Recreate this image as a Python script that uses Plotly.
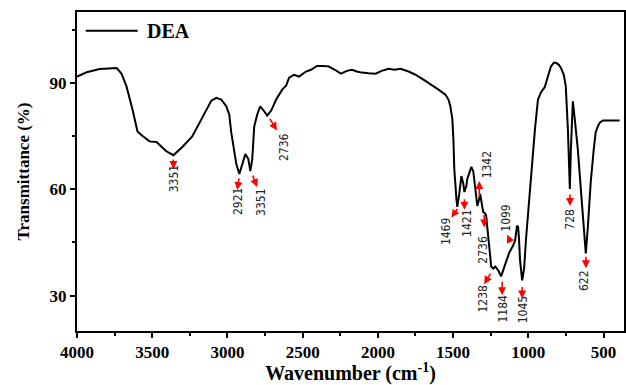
import plotly.graph_objects as go

wavenumber = [4000, 3936, 3850, 3783, 3736, 3704, 3671, 3631, 3598, 3564, 3518, 3472, 3439, 3406, 3359,
              3300, 3234, 3187, 3141, 3107, 3074, 3041, 3008, 2988, 2975, 2955, 2941, 2921, 2901, 2881,
              2861, 2848, 2835, 2822, 2802, 2782, 2756, 2736, 2709, 2676, 2636, 2610, 2590, 2557, 2524,
              2478, 2445, 2405, 2365, 2326, 2286, 2246, 2206, 2173, 2140, 2107, 2061, 2015, 1975, 1929,
              1889, 1849, 1796, 1750, 1697, 1644, 1597, 1551, 1531, 1518, 1505, 1498, 1492, 1478, 1472,
              1459, 1445, 1432, 1425, 1412, 1406, 1392, 1379, 1366, 1359, 1346, 1339, 1326, 1320, 1306,
              1300, 1286, 1280, 1273, 1267, 1253, 1247, 1233, 1220, 1200, 1181, 1167, 1147, 1127, 1101,
              1088, 1075, 1068, 1062, 1055, 1041, 1028, 1015, 1002, 989, 975, 956, 936, 916, 890,
              870, 850, 830, 817, 797, 784, 764, 751, 737, 731, 724, 717, 704, 691, 671,
              651, 631, 618, 605, 585, 565, 552, 538, 525, 505, 486, 393]
transmittance = [91.8, 93.0, 93.9, 94.2, 94.2, 92.6, 89.0, 82.5, 76.3, 75.0, 73.5, 73.3, 72.1, 70.7, 69.6,
                 71.9, 74.9, 78.6, 82.5, 85.0, 85.8, 85.3, 83.4, 81.1, 76.1, 69.9, 67.1, 64.3, 67.1, 69.9,
                 68.5, 65.1, 68.5, 77.7, 81.1, 83.4, 82.0, 80.8, 82.2, 85.3, 88.1, 89.2, 91.5, 92.3, 91.8,
                 93.2, 93.7, 94.8, 94.8, 94.6, 93.7, 92.6, 93.4, 93.7, 93.2, 92.9, 92.7, 92.6, 93.4, 94.0,
                 93.7, 94.0, 93.2, 92.3, 90.9, 89.5, 88.1, 86.7, 85.3, 83.4, 79.7, 74.1, 65.7, 57.3, 55.0,
                 58.7, 63.7, 61.5, 59.2, 60.9, 62.9, 64.6, 66.3, 65.1, 62.9, 58.7, 55.3, 57.3, 58.7, 55.0,
                 53.6, 53.1, 52.5, 49.4, 46.1, 41.0, 38.2, 37.6, 38.2, 37.1, 35.4, 37.1, 39.9, 42.1, 44.1,
                 45.5, 49.7, 49.4, 46.1, 39.9, 34.3, 37.6, 46.1, 53.1, 60.1, 68.5, 76.9, 85.3, 87.3, 88.9,
                 91.5, 94.6, 95.7, 95.7, 95.1, 94.3, 92.3, 89.0, 76.9, 67.1, 60.1, 71.3, 84.8, 79.7, 71.3,
                 60.1, 47.5, 41.9, 48.9, 62.1, 71.3, 76.1, 77.7, 78.8, 79.4, 79.4, 79.4]

series_name = "DEA"

# peak annotations: label text
peak_labels = ["3351", "2921", "3351", "2736", "1469", "1421", "1342", "2736",
               "1238", "1184", "1045", "1099", "728", "622"]
# arrow head position (data coords)
arrow_x = [3359, 2935, 2803, 2671, 1511, 1425, 1326, 1293, 1293, 1174, 1041, 1140, 723, 617]
arrow_y = [65.7, 59.8, 60.6, 76.6, 52.0, 54.2, 62.3, 49.2, 33.2, 30.1, 29.2, 47.2, 55.3, 37.7]
# arrow tail offsets (pixels)
arrow_ax = [0, 2, -5, -8, 7, 0, 0, 0, 7, 0, 0, 4, 0, 0]
arrow_ay = [-11, -13, -13, -13, -10, -12, 17, -14, -12, -15, -13, 9, -13, -13]
# label centres (data coords)
label_x = [3353, 2929, 2777, 2624, 1551, 1412, 1273, 1300, 1300, 1167, 1034, 1154, 723, 625]
label_y = [62.9, 56.4, 56.4, 71.9, 48.3, 50.3, 66.8, 43.0, 29.2, 26.4, 25.9, 52.0, 51.7, 34.3]

fig = go.Figure()
fig.add_trace(go.Scatter(x=wavenumber, y=transmittance, mode="lines", name=series_name,
                         line=dict(color="black", width=2), showlegend=False))

serif = "Liberation Serif, Times New Roman, serif"
annotations = []
for i, lab in enumerate(peak_labels):
    annotations.append(dict(x=arrow_x[i], y=arrow_y[i], xref="x", yref="y", text="",
                            showarrow=True, ax=arrow_ax[i], ay=arrow_ay[i],
                            arrowcolor="#ff0000", arrowhead=2, arrowsize=1, arrowwidth=1.6))
    annotations.append(dict(x=label_x[i], y=label_y[i], xref="x", yref="y", text=lab,
                            showarrow=False, textangle=-90,
                            font=dict(family="Liberation Sans Narrow, DejaVu Sans Condensed, Liberation Sans",
                                      size=12, color="#222222")))

# manual legend
annotations.append(dict(x=0.124, y=0.941, xref="paper", yref="paper", text=series_name,
                        showarrow=False, xanchor="left", yanchor="middle",
                        font=dict(family=serif, size=20, color="black", weight="bold")))

fig.update_layout(
    width=626, height=385,
    margin=dict(l=77, r=0, t=12, b=52),
    paper_bgcolor="white", plot_bgcolor="white",
    showlegend=False,
    shapes=[dict(type="line", xref="paper", yref="paper", x0=0.016, x1=0.111, y0=0.941, y1=0.941,
                 line=dict(color="black", width=2))],
    xaxis=dict(range=[4000, 364], tickvals=[4000, 3500, 3000, 2500, 2000, 1500, 1000, 500],
               ticks="outside", ticklen=5, tickwidth=1.5, tickcolor="black",
               minor=dict(tickvals=[3750, 3250, 2750, 2250, 1750, 1250, 750], ticks="outside",
                          ticklen=3, tickwidth=1.5, tickcolor="black"),
               showline=True, linecolor="black", linewidth=2, mirror=True,
               showgrid=False, zeroline=False,
               tickfont=dict(family=serif, size=17, color="black", weight="bold"),
               title=dict(text="Wavenumber (cm<sup>-1</sup>)", standoff=9,
                          font=dict(family=serif, size=20, color="black", weight="bold"))),
    yaxis=dict(range=[20, 110], tickvals=[30, 60, 90],
               ticks="outside", ticklen=5, tickwidth=1.5, tickcolor="black",
               minor=dict(tickvals=[45, 75, 105], ticks="outside", ticklen=3, tickwidth=1.5,
                          tickcolor="black"),
               showline=True, linecolor="black", linewidth=2, mirror=True,
               showgrid=False, zeroline=False,
               tickfont=dict(family=serif, size=17, color="black", weight="bold"),
               title=dict(text="Transmittance (%)", standoff=16,
                          font=dict(family=serif, size=17, color="black", weight="bold"))),
    annotations=annotations,
)

fig.write_html("out.html")
